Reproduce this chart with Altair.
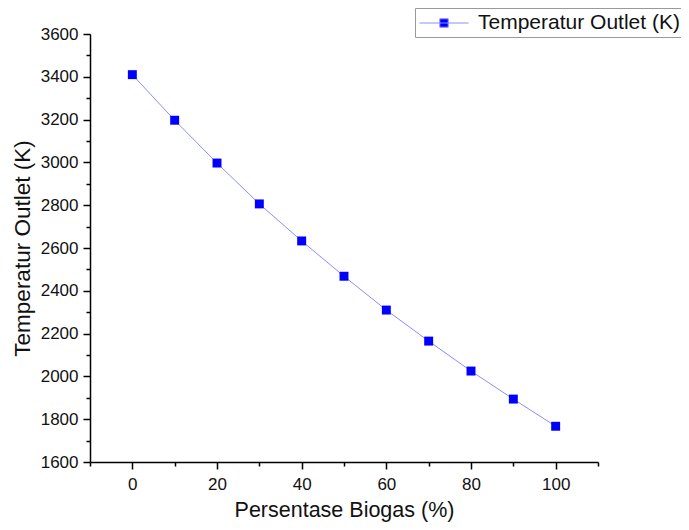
import altair as alt
import pandas as pd

biogas = [0, 10, 20, 30, 40, 50, 60, 70, 80, 90, 100]
temp = [3410, 3197, 2997, 2806, 2633, 2468, 2310, 2165, 2025, 1894, 1767]
series_name = "Temperatur Outlet (K)"
x_ticks = list(range(-10, 111, 10))
y_ticks = list(range(1600, 3601, 100))

df = pd.DataFrame({"biogas": biogas, "temp": temp, "series": [series_name] * len(biogas)})

FONT = "Liberation Sans"

x_enc = alt.X(
    "biogas:Q",
    scale=alt.Scale(domain=[-10, 110], nice=False, zero=False),
    axis=alt.Axis(
        values=x_ticks,
        labelExpr="datum.value % 20 === 0 ? datum.label : ''",
        tickSize={"condition": {"test": "datum.value % 20 === 0", "value": 7}, "value": 4},
        title="Persentase Biogas (%)",
        titleFontSize=21.5,
        titlePadding=7,
        labelPadding=7,
    ),
)
y_enc = alt.Y(
    "temp:Q",
    scale=alt.Scale(domain=[1600, 3600], nice=False, zero=False),
    axis=alt.Axis(
        values=y_ticks,
        labelExpr="datum.value % 200 === 0 ? datum.label : ''",
        tickSize={"condition": {"test": "datum.value % 200 === 0", "value": 7}, "value": 4},
        title="Temperatur Outlet (K)",
        titleFontSize=22.5,
        titlePadding=6,
        labelPadding=5,
        format="d",
    ),
)

line = alt.Chart(df).mark_line(color="#8c8cff", strokeWidth=1).encode(x=x_enc, y=y_enc)

points = alt.Chart(df).mark_point(shape="square", filled=True, size=80, opacity=1).encode(
    x=x_enc,
    y=y_enc,
    color=alt.Color(
        "series:N",
        scale=alt.Scale(range=["#0000ff"]),
        legend=alt.Legend(
            title=None,
            orient="none",
            legendX=325,
            legendY=-26,
            symbolType="M-1,0H3.667M0.933,-0.4H1.733V0.4H0.933Z",
            symbolSize=441,
            symbolStrokeColor="#8c8cff",
            symbolStrokeWidth=1,
            symbolFillColor="#0000ff",
            labelFontSize=21,
            labelFont=FONT,
            labelColor="#111111",
            labelOffset=37,
            labelLimit=0,
            strokeColor="#999999",
            padding=4,
        ),
    ),
)

chart = (
    alt.layer(line, points)
    .properties(
        width=508,
        height=428,
        autosize=alt.AutoSizeParams(type="none"),
        padding={"left": 82, "top": 26, "right": 83, "bottom": 60},
    )
    .configure_view(stroke=None)
    .configure_axis(
        grid=False,
        domainColor="#000000",
        domainWidth=1.5,
        tickColor="#000000",
        tickWidth=1.5,
        labelFont=FONT,
        labelFontSize=17,
        labelColor="#111111",
        titleFont=FONT,
        titleFontWeight="normal",
        titleColor="#111111",
    )
)

chart.save("out.html", embed_options={"renderer": "svg", "actions": False})
